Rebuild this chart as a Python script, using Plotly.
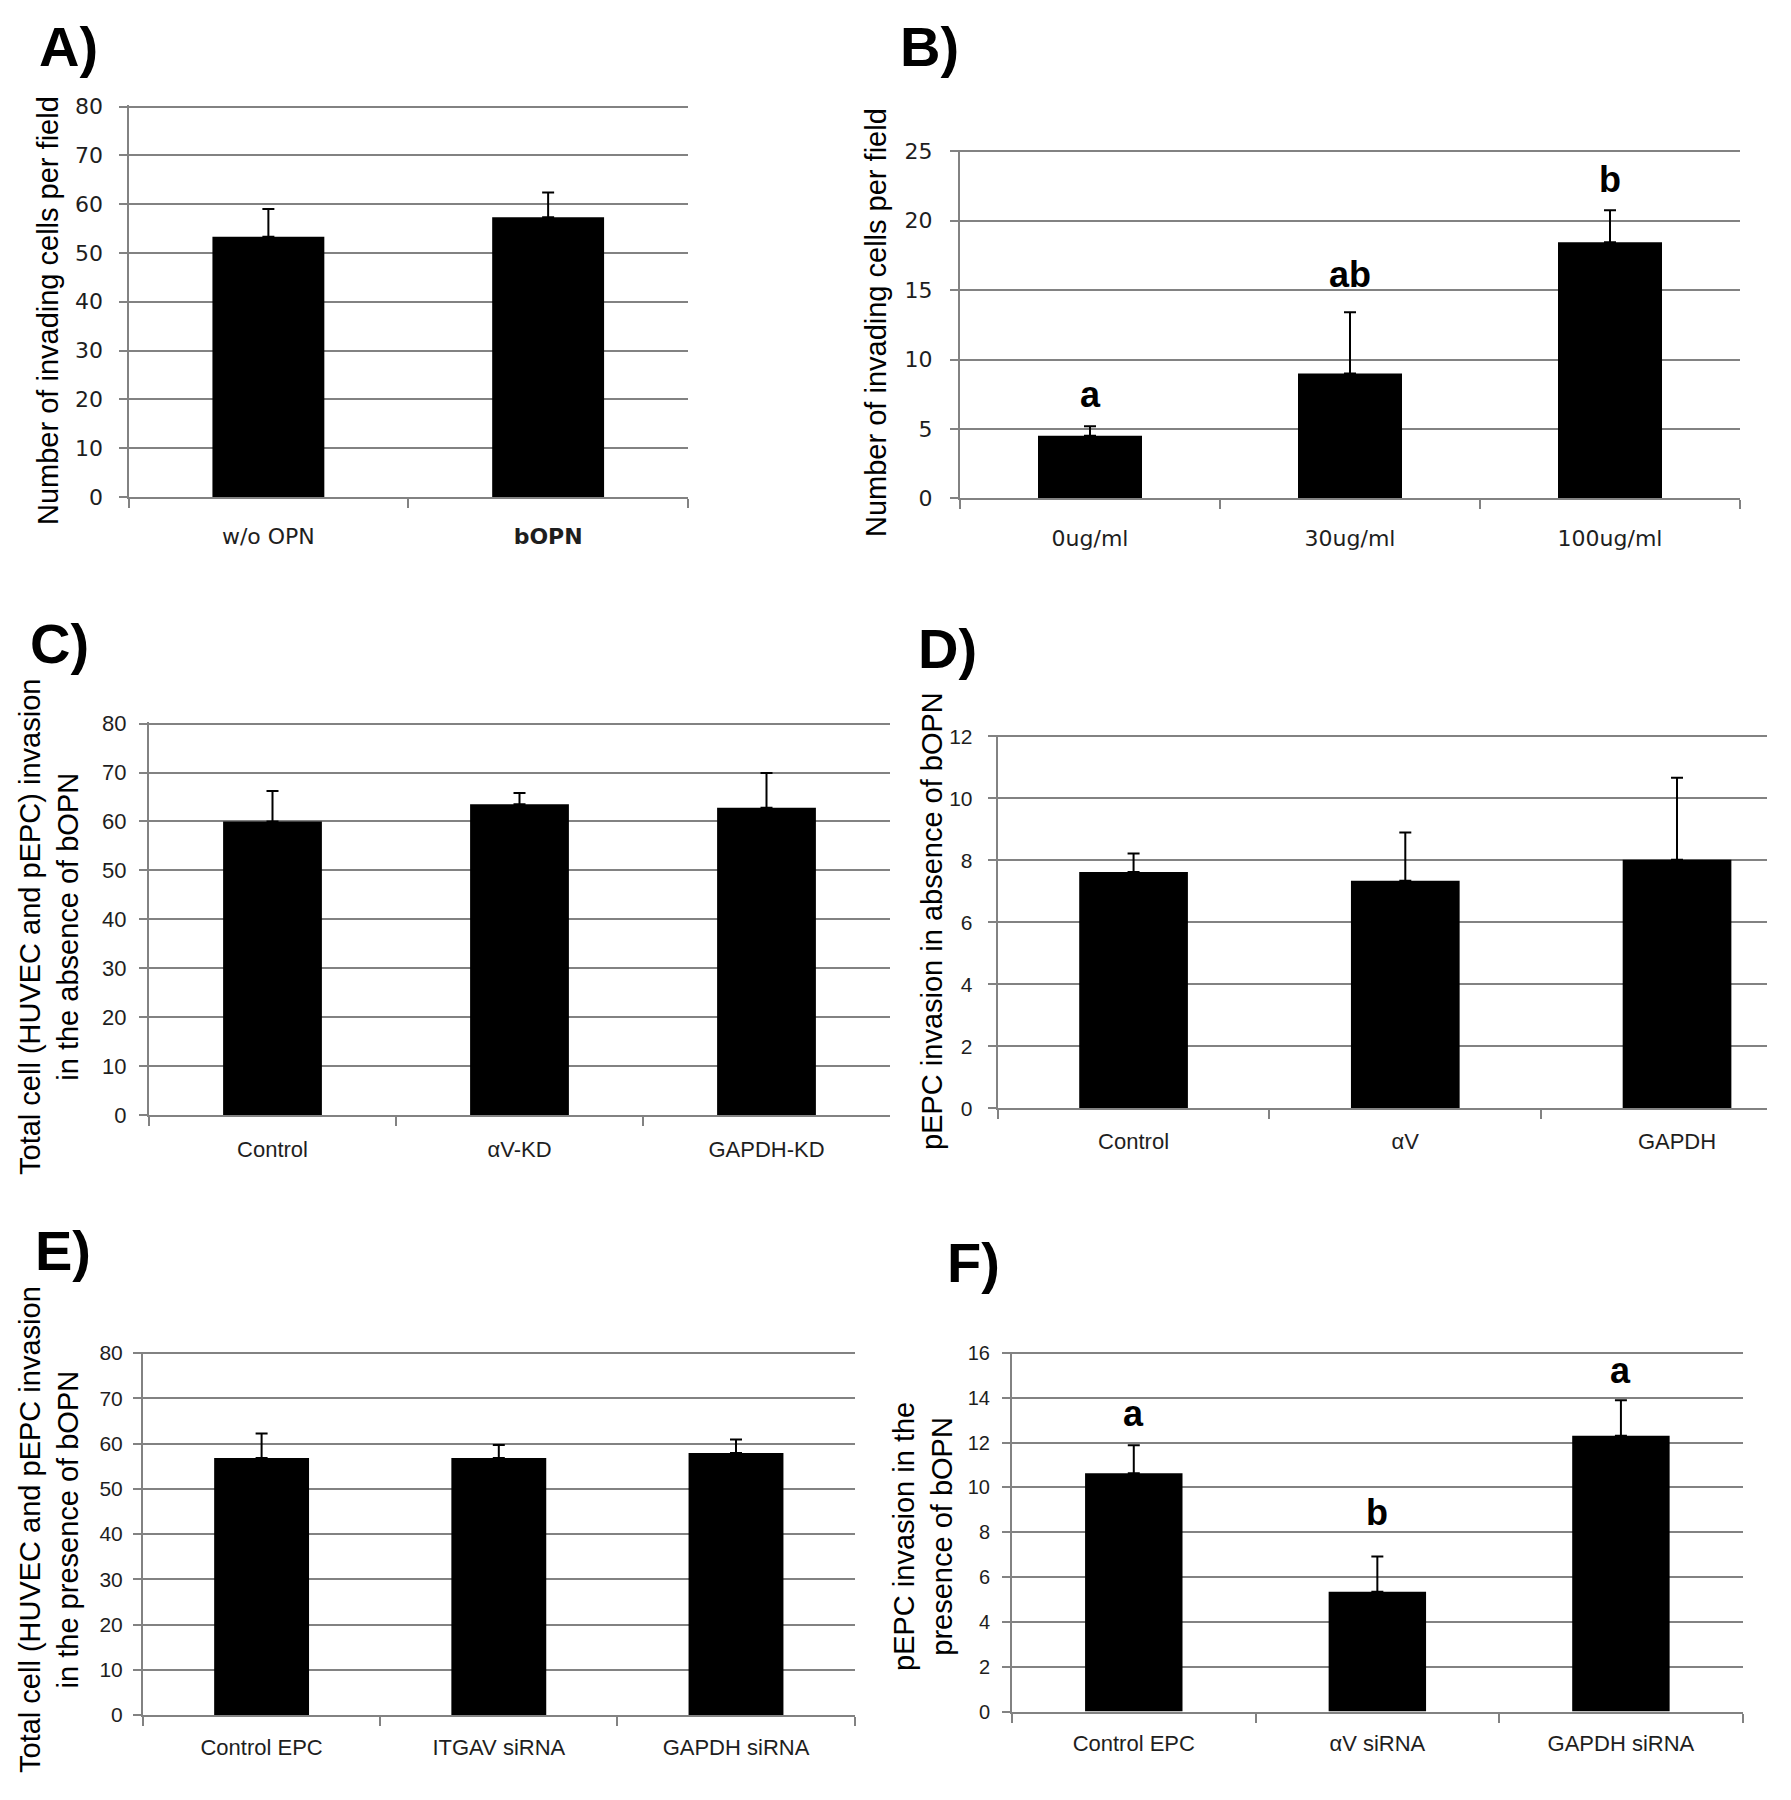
import plotly.graph_objects as go

W, H = 1791, 1800

# ---------------- data ----------------
a_categories = ["w/o OPN", "bOPN"]
a_ticktext = ["w/o OPN", "<b>bOPN</b>"]
a_values = [53.3, 57.3]
a_errors = [5.7, 5.1]

b_categories = ["0ug/ml", "30ug/ml", "100ug/ml"]
b_values = [4.5, 9.0, 18.45]
b_errors = [0.7, 4.4, 2.3]
b_letters = ["a", "ab", "b"]
b_letter_y = [7.5, 16.1, 23.0]

c_categories = ["Control", "αV-KD", "GAPDH-KD"]
c_values = [60.0, 63.5, 62.8]
c_errors = [6.2, 2.3, 7.1]

d_categories = ["Control", "αV", "GAPDH"]
d_values = [7.63, 7.34, 8.02]
d_errors = [0.59, 1.56, 2.65]

e_categories = ["Control EPC", "ITGAV siRNA", "GAPDH siRNA"]
e_values = [56.8, 56.8, 57.9]
e_errors = [5.4, 2.9, 3.0]

f_categories = ["Control EPC", "αV siRNA", "GAPDH siRNA"]
f_values = [10.63, 5.34, 12.31]
f_errors = [1.25, 1.58, 1.58]
f_letters = ["a", "b", "a"]
f_letter_y = [13.3, 8.9, 15.2]

# ---------------- layout config (pixels in 1791x1800 page) ----------------
GRID = "#828282"
ARIAL = "Liberation Sans, Arial, sans-serif"
TAHOMA = "DejaVu Sans, Verdana, sans-serif"
TXT = "#1e1e1e"

panels = [
    dict(label="A)", cats=a_categories, ticktext=a_ticktext, vals=a_values, errs=a_errors,
         x0=128.5, x1=688, ytop=105, ybot=497, ymax=80, dtick=10, xmax=None,
         tickfont=dict(family=TAHOMA, size=22, color=TXT), ystand=11,
         catfont=dict(family=TAHOMA, size=22, color=TXT), xstand=19,
         title="Number of invading cells per field", tx=48, ty=311,
         lx=68, ly=46),
    dict(label="B)", cats=b_categories, ticktext=b_categories, vals=b_values, errs=b_errors,
         x0=960, x1=1740, ytop=150, ybot=498.3, ymax=25, dtick=5, xmax=None,
         tickfont=dict(family=TAHOMA, size=22, color=TXT), ystand=13,
         catfont=dict(family=TAHOMA, size=22, color=TXT), xstand=19,
         title="Number of invading cells per field", tx=876, ty=323,
         lx=930, ly=47),
    dict(label="C)", cats=c_categories, ticktext=c_categories, vals=c_values, errs=c_errors,
         x0=149, x1=890, ytop=722, ybot=1115, ymax=80, dtick=10, xmax=None,
         tickfont=dict(family=ARIAL, size=22, color=TXT), ystand=8,
         catfont=dict(family=ARIAL, size=22, color=TXT), xstand=14,
         title="Total cell (HUVEC and pEPC) invasion<br>in the absence of bOPN", tx=49, ty=927,
         lx=60, ly=643),
    dict(label="D)", cats=d_categories, ticktext=d_categories, vals=d_values, errs=d_errors,
         x0=997.7, x1=1766.7, ytop=735, ybot=1108.3, ymax=12, dtick=2, xmax=2.33,
         tickfont=dict(family=ARIAL, size=21, color=TXT), ystand=11,
         catfont=dict(family=ARIAL, size=22, color=TXT), xstand=12,
         title="pEPC invasion in absence of bOPN", tx=932, ty=921,
         lx=947, ly=648),
    dict(label="E)", cats=e_categories, ticktext=e_categories, vals=e_values, errs=e_errors,
         x0=143, x1=854.6, ytop=1351.6, ybot=1715, ymax=80, dtick=10, xmax=None,
         tickfont=dict(family=ARIAL, size=21, color=TXT), ystand=6,
         catfont=dict(family=ARIAL, size=22, color=TXT), xstand=12,
         title="Total cell (HUVEC and pEPC invasion<br>in the presence of bOPN", tx=49, ty=1530,
         lx=63, ly=1250),
    dict(label="F)", cats=f_categories, ticktext=f_categories, vals=f_values, errs=f_errors,
         x0=1012, x1=1742.7, ytop=1351.6, ybot=1711.5, ymax=16, dtick=2, xmax=None,
         tickfont=dict(family=ARIAL, size=20, color=TXT), ystand=8,
         catfont=dict(family=ARIAL, size=22, color=TXT), xstand=11,
         title="pEPC invasion in the<br>presence of bOPN", tx=923, ty=1536,
         lx=973, ly=1262),
]

fig = go.Figure()
layout = dict(
    width=W, height=H,
    margin=dict(l=0, r=0, t=0, b=0, pad=0, autoexpand=False),
    paper_bgcolor="white", plot_bgcolor="white",
    showlegend=False,
    annotations=[],
)

for i, p in enumerate(panels, start=1):
    xs = "x" if i == 1 else f"x{i}"
    ys = "y" if i == 1 else f"y{i}"
    xk = "xaxis" if i == 1 else f"xaxis{i}"
    yk = "yaxis" if i == 1 else f"yaxis{i}"
    n = len(p["cats"])
    fig.add_trace(go.Bar(
        x=p["cats"], y=p["vals"], xaxis=xs, yaxis=ys,
        marker=dict(color="black", line=dict(width=0)), width=0.4,
        error_y=dict(type="data", array=p["errs"], arrayminus=[0] * n, symmetric=False,
                     color="black", thickness=2, width=6),
        hoverinfo="skip",
    ))
    xmax = p["xmax"] if p["xmax"] is not None else n - 0.5
    layout[xk] = dict(
        domain=[p["x0"] / W, p["x1"] / W], anchor=ys, type="category",
        range=[-0.5, xmax], showgrid=False, zeroline=False, automargin=False,
        showline=True, linecolor=GRID, linewidth=2,
        ticks="outside", tickson="boundaries", ticklen=9, tickwidth=2, tickcolor=GRID,
        tickmode="array", tickvals=p["cats"], ticktext=p["ticktext"],
        tickfont=p["catfont"], ticklabelstandoff=p["xstand"], fixedrange=True,
    )
    layout[yk] = dict(
        domain=[1 - p["ybot"] / H, 1 - p["ytop"] / H], anchor=xs,
        range=[0, p["ymax"] * 1.004], dtick=p["dtick"], tick0=0, automargin=False,
        showgrid=True, gridcolor=GRID, gridwidth=2, zeroline=False,
        showline=True, linecolor=GRID, linewidth=2,
        ticks="outside", ticklen=8, tickwidth=2, tickcolor=GRID,
        tickfont=p["tickfont"], ticklabelstandoff=p["ystand"], fixedrange=True,
    )
    # y-axis title
    layout["annotations"].append(dict(
        text=p["title"], textangle=-90, x=p["tx"] / W, y=1 - p["ty"] / H,
        xref="paper", yref="paper", xanchor="center", yanchor="middle",
        showarrow=False, font=dict(family=ARIAL, size=29, color="black"),
    ))
    # panel label
    layout["annotations"].append(dict(
        text="<b>" + p["label"] + "</b>", x=p["lx"] / W, y=1 - p["ly"] / H,
        xref="paper", yref="paper", xanchor="center", yanchor="middle",
        showarrow=False, font=dict(family=ARIAL, size=56, color="black"),
    ))

# significance letters
for cat, txt, yv in zip(b_categories, b_letters, b_letter_y):
    layout["annotations"].append(dict(
        text="<b>" + txt + "</b>", x=cat, y=yv, xref="x2", yref="y2",
        xanchor="center", yanchor="middle", showarrow=False,
        font=dict(family=ARIAL, size=36, color="black"),
    ))
for cat, txt, yv in zip(f_categories, f_letters, f_letter_y):
    layout["annotations"].append(dict(
        text="<b>" + txt + "</b>", x=cat, y=yv, xref="x6", yref="y6",
        xanchor="center", yanchor="middle", showarrow=False,
        font=dict(family=ARIAL, size=36, color="black"),
    ))

fig.update_layout(**layout)
fig.write_html(
    "out.html",
    config={"displayModeBar": False, "staticPlot": True},
    post_script="document.body.style.margin='0px';document.body.style.overflow='hidden';",
)
